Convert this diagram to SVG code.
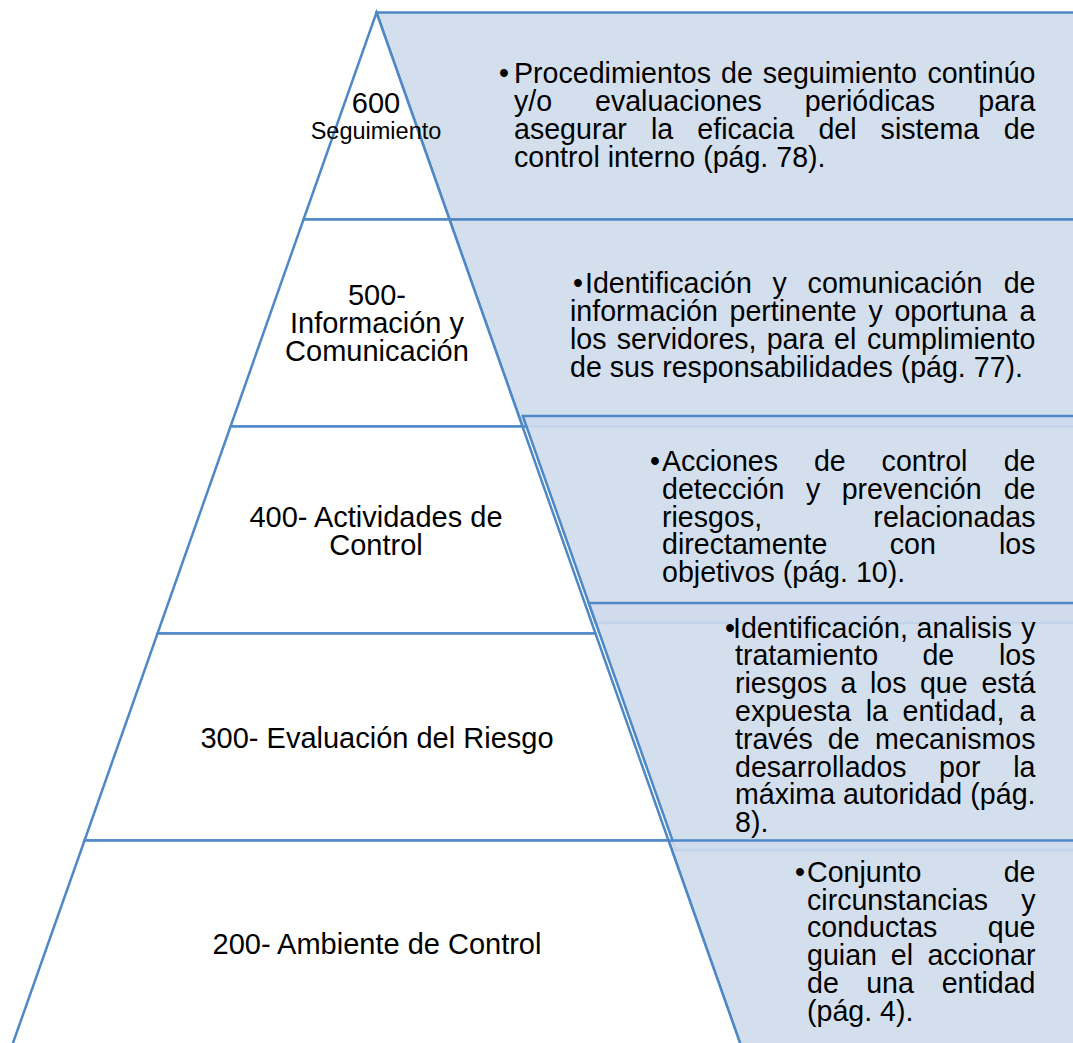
<svg xmlns="http://www.w3.org/2000/svg" width="1073" height="1043" viewBox="0 0 1073 1043">
<style>
.tier{fill:#ffffff;stroke:#4f88c6;stroke-width:2.5;stroke-linejoin:miter}
.panel{fill:#cfdcec;fill-opacity:0.9;stroke:#4f88c6;stroke-width:2.5}
.lbl{font-family:"Liberation Sans",Arial,sans-serif;font-size:29px;fill:#000000;text-anchor:middle}
.sm{font-size:23.5px}
.txt{font-family:"Liberation Sans",Arial,sans-serif;font-size:28.6px;fill:#000000}
.e{text-anchor:end}
</style>
<rect width="1073" height="1043" fill="#ffffff"/>
<g id="panel-600">
  <polygon class="panel" points="376.5,12.5 1080,12.5 1080,219.5 449.5,219.5"/>
  <text class="txt" y="83"><tspan x="499">•</tspan><tspan x="514">Procedimientos</tspan><tspan x="721">de</tspan><tspan x="762.7">seguimiento</tspan></text>
  <text class="txt e" x="1035.5" y="83">continúo</text>
  <text class="txt" y="111"><tspan x="514">y/o</tspan><tspan x="595">evaluaciones</tspan><tspan x="804.7">periódicas</tspan></text>
  <text class="txt e" x="1035.5" y="111">para</text>
  <text class="txt" y="139"><tspan x="514">asegurar</tspan><tspan x="651">la</tspan><tspan x="697.3">eficacia</tspan><tspan x="818.4">del</tspan><tspan x="880.6">sistema</tspan></text>
  <text class="txt e" x="1035.5" y="139">de</text>
  <text class="txt" x="514" y="167">control interno (pág. 78).</text>
</g>
<g id="panel-500">
  <polygon class="panel" points="449.5,219.5 1080,219.5 1080,426.5 522.5,426.5"/>
  <text class="txt" y="293"><tspan x="573">•</tspan><tspan x="585">Identificación</tspan><tspan x="772.6">y</tspan><tspan x="807.6">comunicación</tspan></text>
  <text class="txt e" x="1035.5" y="293">de</text>
  <text class="txt" y="321"><tspan x="570">información</tspan><tspan x="729.5">pertinente</tspan><tspan x="868.4">y</tspan><tspan x="894.4">oportuna</tspan></text>
  <text class="txt e" x="1035.5" y="321">a</text>
  <text class="txt" y="349"><tspan x="570">los</tspan><tspan x="616.7">servidores,</tspan><tspan x="766.7">para</tspan><tspan x="834">el</tspan></text>
  <text class="txt e" x="1035.5" y="349">cumplimiento</text>
  <text class="txt" x="570" y="377">de sus responsabilidades (pág. 77).</text>
</g>
<g id="panel-400">
  <polygon class="panel" points="522.8,416 1080,416 1080,623 595.8,623"/>
  <text class="txt" y="471"><tspan x="650">•</tspan><tspan x="662">Acciones</tspan><tspan x="813.9">de</tspan><tspan x="881.6">control</tspan></text>
  <text class="txt e" x="1035.5" y="471">de</text>
  <text class="txt" y="498.8"><tspan x="662">detección</tspan><tspan x="805.9">y</tspan><tspan x="841.7">prevención</tspan></text>
  <text class="txt e" x="1035.5" y="498.8">de</text>
  <text class="txt" x="662" y="526.6">riesgos,</text>
  <text class="txt e" x="1035.5" y="526.6">relacionadas</text>
  <text class="txt" y="554.4"><tspan x="662">directamente</tspan><tspan x="889.8">con</tspan></text>
  <text class="txt e" x="1035.5" y="554.4">los</text>
  <text class="txt" x="662" y="582.2">objetivos (pág. 10).</text>
</g>
<g id="panel-300">
  <polygon class="panel" points="588.8,603 1080,603 1080,850 675.9,850"/>
  <text class="txt" y="637.5"><tspan x="725">•</tspan><tspan x="733">Identificación,</tspan><tspan x="916.6">analisis</tspan></text>
  <text class="txt e" x="1035.5" y="637.5">y</text>
  <text class="txt" y="665.3"><tspan x="735">tratamiento</tspan><tspan x="922.4">de</tspan></text>
  <text class="txt e" x="1035.5" y="665.3">los</text>
  <text class="txt" y="693.1"><tspan x="735">riesgos</tspan><tspan x="840.6">a</tspan><tspan x="869.9">los</tspan><tspan x="919.9">que</tspan></text>
  <text class="txt e" x="1035.5" y="693.1">está</text>
  <text class="txt" y="720.9"><tspan x="735">expuesta</tspan><tspan x="865.7">la</tspan><tspan x="902.6">entidad,</tspan></text>
  <text class="txt e" x="1035.5" y="720.9">a</text>
  <text class="txt" y="748.7"><tspan x="735">través</tspan><tspan x="827.8">de</tspan></text>
  <text class="txt e" x="1035.5" y="748.7">mecanismos</text>
  <text class="txt" y="776.5"><tspan x="735">desarrollados</tspan><tspan x="939.1">por</tspan></text>
  <text class="txt e" x="1035.5" y="776.5">la</text>
  <text class="txt" y="804.3"><tspan x="735">máxima</tspan><tspan x="842.9">autoridad</tspan></text>
  <text class="txt e" x="1035.5" y="804.3">(pág.</text>
  <text class="txt" x="735" y="832.1">8).</text>
</g>
<g id="panel-200">
  <polygon class="panel" points="668.5,840.5 1080,840.5 1080,1047.5 741.6,1047.5"/>
  <text class="txt" y="881.7"><tspan x="795">•</tspan><tspan x="807">Conjunto</tspan></text>
  <text class="txt e" x="1035.5" y="881.7">de</text>
  <text class="txt" x="807" y="909.5">circunstancias</text>
  <text class="txt e" x="1035.5" y="909.5">y</text>
  <text class="txt" x="807" y="937.3">conductas</text>
  <text class="txt e" x="1035.5" y="937.3">que</text>
  <text class="txt" y="965.1"><tspan x="807">guian</tspan><tspan x="890.8">el</tspan></text>
  <text class="txt e" x="1035.5" y="965.1">accionar</text>
  <text class="txt" y="992.9"><tspan x="807">de</tspan><tspan x="866.2">una</tspan></text>
  <text class="txt e" x="1035.5" y="992.9">entidad</text>
  <text class="txt" x="807" y="1020.7">(pág. 4).</text>
</g>
<g id="pyramid">
  <g id="tier-600">
    <polygon class="tier" points="376.5,12.5 449.5,219.5 303.5,219.5"/>
    <text class="lbl" x="376" y="113">600</text>
    <text class="lbl sm" x="376" y="139">Seguimiento</text>
  </g>
  <g id="tier-500">
    <polygon class="tier" points="303.5,219.5 449.5,219.5 522.5,426.5 230.5,426.5"/>
    <text class="lbl" x="377" y="305">500-</text>
    <text class="lbl" x="377" y="333">Información y</text>
    <text class="lbl" x="377" y="361">Comunicación</text>
  </g>
  <g id="tier-400">
    <polygon class="tier" points="230.5,426.5 522.5,426.5 595.5,633.5 157.5,633.5"/>
    <text class="lbl" x="376" y="527">400- Actividades de</text>
    <text class="lbl" x="376" y="555">Control</text>
  </g>
  <g id="tier-300">
    <polygon class="tier" points="157.5,633.5 595.5,633.5 668.5,840.5 84.5,840.5"/>
    <text class="lbl" x="377" y="748">300- Evaluación del Riesgo</text>
  </g>
  <g id="tier-200">
    <polygon class="tier" points="84.5,840.5 668.5,840.5 741.6,1047.5 11.4,1047.5"/>
    <text class="lbl" x="377" y="954">200- Ambiente de Control</text>
  </g>
</g>
<g id="connectors"></g>
</svg>
